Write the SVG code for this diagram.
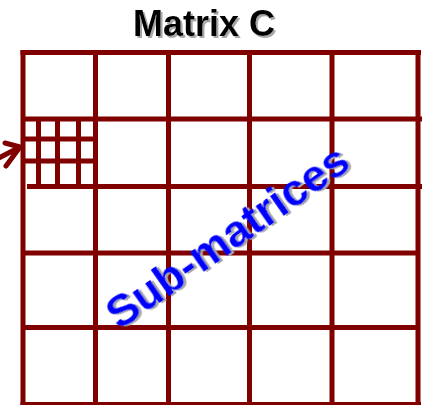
<svg xmlns="http://www.w3.org/2000/svg" width="423" height="405" viewBox="0 0 423 405">
  <defs>
    <filter id="shadow" x="-10%" y="-20%" width="120%" height="150%">
      <feDropShadow dx="2" dy="2" stdDeviation="0.4" flood-color="#a8a8a8" flood-opacity="1"/>
    </filter>
  </defs>
  <style>
    .g { stroke: #800000; stroke-width: 5; fill: none; stroke-linecap: butt; }
    .s { stroke: #800000; stroke-width: 5; fill: none; }
    .title { font-family: "Liberation Sans", Arial, sans-serif; font-weight: bold; font-size: 36px; }
    .sub { font-family: "Liberation Sans", Arial, sans-serif; font-weight: bold; font-size: 45px; }
  </style>
  <rect width="423" height="405" fill="#ffffff"/>
  <g id="title">
    <text class="title" x="204" y="36" text-anchor="middle" fill="#000000" filter="url(#shadow)">Matrix C</text>
  </g>
  <g id="matrix">
    <line class="g" x1="23" y1="50" x2="23" y2="405"/>
    <line class="g" x1="20.5" y1="52.5" x2="421" y2="52.5"/>
    <line class="g" x1="418" y1="50" x2="418" y2="405"/>
    <line class="g" x1="20.5" y1="404.5" x2="421" y2="404.5"/>
    <line class="g" x1="95.5" y1="55" x2="95.5" y2="402"/>
    <line class="g" x1="168.5" y1="55" x2="168.5" y2="402"/>
    <line class="g" x1="249.5" y1="55" x2="249.5" y2="402"/>
    <line class="g" x1="332" y1="55" x2="332" y2="402"/>
    <line class="g" x1="25" y1="119" x2="422" y2="119"/>
    <line class="g" x1="27" y1="186.5" x2="422" y2="186.5"/>
    <line class="g" x1="25" y1="253" x2="416" y2="253"/>
    <line class="g" x1="25" y1="327.5" x2="416" y2="327.5"/>
  </g>
  <g id="submatrix">
    <line class="s" x1="38.5" y1="121" x2="38.5" y2="184"/>
    <line class="s" x1="57.5" y1="121" x2="57.5" y2="184"/>
    <line class="s" x1="78.5" y1="121" x2="78.5" y2="184"/>
    <line class="s" x1="25" y1="139" x2="93" y2="139"/>
    <line class="s" x1="25" y1="161" x2="93" y2="161"/>
  </g>
  <g id="connectors">
    <path d="M -3 159 L 20 147 M 5 143 L 20 147 L 6 166" stroke="#800000" stroke-width="5" fill="none" stroke-linecap="round" stroke-linejoin="round"/>
  </g>
  <g id="label">
    <g transform="translate(227 236) rotate(-35)">
      <text class="sub" x="0" y="16" text-anchor="middle" fill="#0000ff" filter="url(#shadow)">Sub-matrices</text>
    </g>
  </g>
</svg>
